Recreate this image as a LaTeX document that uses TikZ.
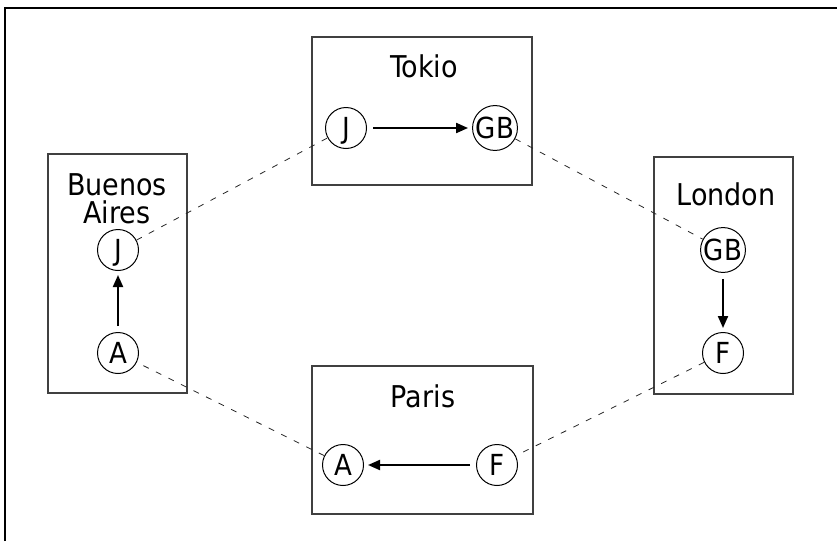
\documentclass[tikz,border=0pt]{standalone}
\usepackage{fontspec}
\setmainfont{DejaVu Sans Condensed}
\usetikzlibrary{arrows.meta}
\begin{document}
\begin{tikzpicture}[x=1pt,y=-1pt,
  box/.style={draw=black!75, line width=1.2pt, minimum width=#1},
  city/.style={font=\fontsize{30}{35}\selectfont, anchor=base, inner sep=0pt},
  country/.style={circle, draw, line width=1pt, minimum size=41pt, inner sep=0.5pt,
    text height=21pt, text depth=0pt, font=\fontsize{29}{34}\selectfont},
  flow/.style={line width=2pt, shorten <=6pt, shorten >=4pt,
    -{Triangle[length=12pt,width=10pt]}},
  link/.style={dash pattern=on 6pt off 8pt, line width=0.8pt, draw=black!85}]
\useasboundingbox (0,0) rectangle (837,541);

% frame: only its top and left edges fall inside the page
\coordinate (frameBottom) at (5,541);
\coordinate (frameCorner) at (5,8);
\coordinate (frameRight) at (837,8);
\draw[line width=2pt] (frameBottom) -- (frameCorner) -- (frameRight);

% city boxes
\node[box=220pt, minimum height=148pt] (tokioBox)  at (422,111) {};
\node[box=139pt, minimum height=239pt] (baBox)     at (117.5,273.5) {};
\node[box=139pt, minimum height=237pt] (londonBox) at (723.5,275.5) {};
\node[box=221pt, minimum height=148pt] (parisBox)  at (422.5,440) {};

% city names
\node[city] (tokioName)  at (424,77)  {Tokio};
\node[city] (buenosName) at (117,195) {Buenos};
\node[city] (airesName)  at (117,223) {Aires};
\node[city] (londonName) at (726,205) {London};
\node[city] (parisName)  at (423,407) {Paris};

% countries in each city
\node[country] (tJ)  at (346,128) {J};
\node[country] (tGB) at (495,128) {GB};
\node[country] (bJ)  at (118,250) {J};
\node[country] (bA)  at (118,353) {A};
\node[country] (lGB) at (723,250) {GB};
\node[country] (lF)  at (723,353) {F};
\node[country] (pA)  at (343,465) {A};
\node[country] (pF)  at (497,465) {F};

% flows inside each city
\draw[flow] (tJ) -- (tGB);
\draw[flow] (bA) -- (bJ);
\draw[flow] (lGB) -- (lF);
\draw[flow] (pF) -- (pA);

% links between cities
\draw[link] (bJ) -- (tJ);
\draw[link] (tGB) -- (lGB);
\draw[link] (lF) -- (pF);
\draw[link] (pA) -- (bA);
\end{tikzpicture}
\end{document}
